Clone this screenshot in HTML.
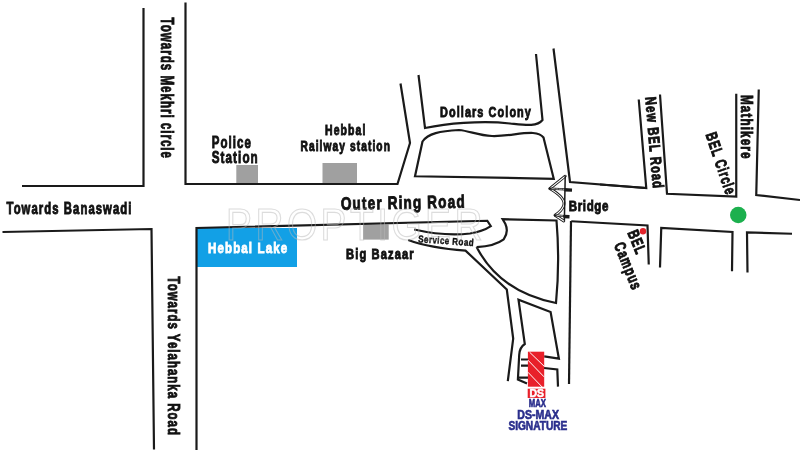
<!DOCTYPE html>
<html><head><meta charset="utf-8">
<style>
html,body{margin:0;padding:0;background:#fff;width:800px;height:452px;overflow:hidden}
svg{display:block;will-change:transform}
text{font-family:"Liberation Sans",sans-serif;font-weight:bold;fill:#111;stroke:#111;stroke-width:0.9;letter-spacing:1.5px}
</style></head>
<body>
<svg width="800" height="452" viewBox="0 0 800 452">

<rect x="236.3" y="165" width="21.7" height="19" fill="#a0a0a0"/>
<rect x="322.5" y="163" width="34.5" height="21" fill="#a0a0a0"/>
<rect x="363" y="224.5" width="25.7" height="15.1" fill="#a0a0a0"/>
<rect x="196.3" y="228" width="100.7" height="39" fill="#12a0e6"/>
<g fill="none" stroke="#1a1a1a" stroke-width="2.2" stroke-linejoin="miter">
<polyline points="143.5,8 143.5,186 22,186"/>
<polyline points="185.5,2.5 185.5,184 397.5,184 410,143 400.5,83.5"/>
<polyline points="2.5,232 151.5,229 154,449.5"/>
<!-- dollars colony -->
<path d="M418.5,75 L425,128 C445,124 480,120 510,123.5 C525,125 537,127 542.5,120 L536,54"/>
<path d="M422.5,141.5 C428,133.5 440,131 459,130 C470,131 478,135.5 492,136 C508,136.5 520,132.5 533,133 C538,133.5 541,134.5 543.5,137.5 L553.75,178.75 L415,176.25 Z"/>
<!-- main road top right -->
<polyline points="553.5,48.5 570,182 646.25,188 638.75,99.5"/>
<polyline points="660,94.5 667,193.75 736.25,196.5 736.25,93.75"/>
<polyline points="758.75,89.5 756.25,195 800,200"/>
<polyline points="600,184.5 646.25,188"/>
<!-- lower right -->
<polyline points="571.25,221.25 647.5,225.5 648.75,264.5"/>
<polyline points="660,267.5 661.25,228 732.5,232 732,271.25"/>
<polyline points="747.5,272.5 747,232.5 792,233.75"/>
<polyline points="571,221 569,384"/>
<!-- main road bottom + service road -->
<path d="M196.5,450 L196.5,228 L487.3,220.75 L490.8,226.2 Q483,231.5 470,233.5 Q445,236.5 414.25,229.5"/>
<path d="M408.25,240 Q430,248 465.5,250.6 L506.8,289.5 L513.2,338.6 L507.8,381.1"/>
<path d="M476.6,247.1 Q495,246 503.7,239.3 Q509,232 505.3,223.8 L502.6,219.2 L556.5,220.5 Q560,262 556,303 Q500,292 476.6,247.1"/>
<path d="M544.2,356.4 L558.9,358.7 L550.6,312 L518.5,299.7 L524.8,344 Q519.5,347.5 519.2,355 L517.9,379.6 L527,383.5"/>
<polyline points="544,368 557.3,369.5 558,386.6"/>
<path d="M521,359.5 L528,359.5 M521,365.7 L528,365.7 M519,377.6 L528,377.6"/>
</g>
<!-- bridge icon -->
<g fill="none" stroke-linecap="round" stroke-linejoin="round">
<path d="M565.2,176.2 L549.8,188.6 C559,194 566,200 563.6,206 C562,210 558.5,213 555,215.3 L563.8,221" stroke="#1a1a1a" stroke-width="2.9"/>
<path d="M565.2,176.2 L549.8,188.6 C559,194 566,200 563.6,206 C562,210 558.5,213 555,215.3 L563.8,221" stroke="#fff" stroke-width="1.1"/>
<path d="M549.8,188.6 L565,189.4 M555,215.3 L564,216" stroke="#1a1a1a" stroke-width="2.2"/>
<path d="M552,188.7 L565,189.4 M557,215.4 L564,216" stroke="#fff" stroke-width="0.7" stroke-dasharray="2.5,1.2"/>
<path d="M565.2,176.5 L564.4,220" stroke="#1a1a1a" stroke-width="1.5"/>
<path d="M564.5,189.8 L572,190.1 M563.5,216.5 L569.5,216.8" stroke="#1a1a1a" stroke-width="3.4" stroke-linecap="butt"/>
</g>
<circle cx="738.25" cy="215" r="8.25" fill="#1cb04e"/>
<circle cx="643" cy="231.25" r="3.2" fill="#e3232b"/>
<!-- DS MAX building -->
<rect x="527.9" y="351.7" width="16.3" height="35" fill="#e8202a"/>
<g stroke="#fff" stroke-width="1">
<path d="M529.6,352.2 L544,366.1 M527.9,360.1 L544,376.8 M527.9,372.2 L542.6,387.5"/>
</g>
<rect x="527.7" y="388.7" width="17.7" height="9.3" fill="#e8202a"/>
<text x="529.5" y="396.8" font-size="10" textLength="14.5" lengthAdjust="spacingAndGlyphs" style="fill:#fff;stroke:#fff;stroke-width:0.5;letter-spacing:0">DS</text>
<text x="528.8" y="406.7" font-size="10" textLength="17.2" lengthAdjust="spacingAndGlyphs" style="fill:#2a2e8c;stroke:#2a2e8c;stroke-width:0.6;letter-spacing:0">MAX</text>
<text x="517.3" y="418.9" font-size="12" textLength="41.7" lengthAdjust="spacingAndGlyphs" style="fill:#2a2e8c;stroke:#2a2e8c;stroke-width:0.6;letter-spacing:0">DS-MAX</text>
<text x="508.4" y="430.4" font-size="12" textLength="59" lengthAdjust="spacingAndGlyphs" style="fill:#2a2e8c;stroke:#2a2e8c;stroke-width:0.6;letter-spacing:0">SIGNATURE</text>

<text x="6.5" y="213.75" font-size="16" textLength="126" lengthAdjust="spacingAndGlyphs">Towards Banaswadi</text>
<text x="211.75" y="147.5" font-size="16" textLength="40.25" lengthAdjust="spacingAndGlyphs">Police</text>
<text x="211.75" y="162.5" font-size="16" textLength="47" lengthAdjust="spacingAndGlyphs">Station</text>
<text x="325" y="134.5" font-size="14" textLength="41.5" lengthAdjust="spacingAndGlyphs">Hebbal</text>
<text x="300.5" y="151" font-size="14" textLength="90.5" lengthAdjust="spacingAndGlyphs">Railway station</text>
<text x="440" y="117" font-size="15" textLength="92" lengthAdjust="spacingAndGlyphs">Dollars Colony</text>
<text transform="translate(340.9,209.8) rotate(-1)" font-size="18" textLength="125" lengthAdjust="spacingAndGlyphs">Outer Ring Road</text>
<text x="568.8" y="210.8" font-size="15" textLength="40.2" lengthAdjust="spacingAndGlyphs" style="letter-spacing:0.8px">Bridge</text>
<text x="208" y="252.8" font-size="15.5" textLength="80.25" lengthAdjust="spacingAndGlyphs" style="fill:#fff;stroke:#fff">Hebbal Lake</text>
<text x="346" y="259.3" font-size="15" textLength="68.8" lengthAdjust="spacingAndGlyphs">Big Bazaar</text>
<text transform="translate(418,242.25) rotate(4)" font-size="10" textLength="56" lengthAdjust="spacingAndGlyphs" style="stroke-width:0.4;letter-spacing:0.5px">Service Road</text>
<text transform="translate(160.5,17.5) rotate(90)" font-size="18" textLength="141.5" lengthAdjust="spacingAndGlyphs">Towards Mekhri circle</text>
<text transform="translate(167.7,276.5) rotate(90)" font-size="17" textLength="159.5" lengthAdjust="spacingAndGlyphs">Towards Yelahanka Road</text>
<text transform="translate(645.3,97.3) rotate(85.2)" font-size="15.5" textLength="92.5" lengthAdjust="spacingAndGlyphs">New BEL Road</text>
<text transform="translate(741,95) rotate(90)" font-size="16" textLength="64.5" lengthAdjust="spacingAndGlyphs">Mathikere</text>
<text transform="translate(705.5,134.5) rotate(71.5)" font-size="16" textLength="65" lengthAdjust="spacingAndGlyphs">BEL Circle</text>
<text transform="translate(627.3,232.8) rotate(68)" font-size="16" textLength="25" lengthAdjust="spacingAndGlyphs">BEL</text>
<text transform="translate(613.8,245) rotate(68)" font-size="16" textLength="50" lengthAdjust="spacingAndGlyphs">Campus</text>
<!-- watermark -->
<text x="226" y="239.5" font-size="45" textLength="260" lengthAdjust="spacingAndGlyphs" style="fill:none;stroke:rgba(185,185,185,0.5);stroke-width:1.2;font-weight:normal;letter-spacing:4px">PROPTIGER</text>
</svg>
</body></html>
